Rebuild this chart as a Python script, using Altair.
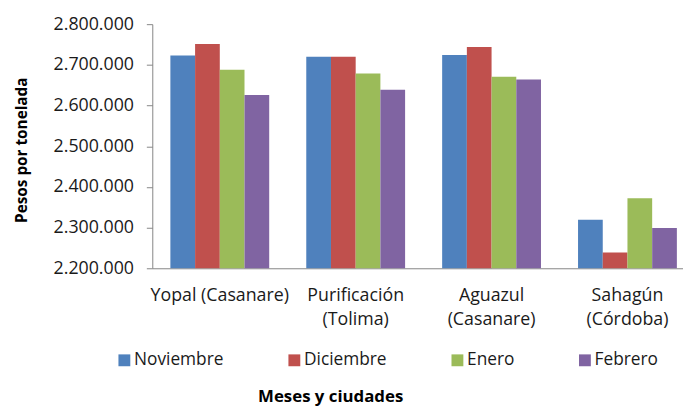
import altair as alt
import pandas as pd

ciudades = ["Yopal (Casanare)", "Purificación (Tolima)", "Aguazul (Casanare)", "Sahagún (Córdoba)"]
meses = ["Noviembre", "Diciembre", "Enero", "Febrero"]
colores = ["#4F81BD", "#C0504D", "#9BBB59", "#8064A2"]
noviembre = [2723000, 2720000, 2724000, 2319000]
diciembre = [2751000, 2720000, 2744000, 2239000]
enero = [2688000, 2679000, 2671000, 2372000]
febrero = [2626000, 2639000, 2664000, 2299000]

series = [noviembre, diciembre, enero, febrero]
rows = []
for m, vals in zip(meses, series):
    for c, v in zip(ciudades, vals):
        rows.append({"Ciudad": c, "Mes": m, "Valor": v})
df = pd.DataFrame(rows)

FONT = "Open Sans"

chart = alt.Chart(df).mark_bar(clip=True).encode(
    x=alt.X("Ciudad:N", sort=ciudades,
            scale=alt.Scale(paddingInner=0.2727, paddingOuter=0.0891, align=0.747),
            axis=alt.Axis(title="Meses y ciudades", labelAngle=0, ticks=False,
                          domainColor="#868686", domainWidth=1,
                          labelExpr="datum.value == 'Yopal (Casanare)' ? datum.value : split(datum.value, ' ')",
                          labelLineHeight=24, labelPadding=19, labelFontSize=18,
                          labelFont=FONT, labelColor="#1a1a1a",
                          titleFont=FONT, titleFontSize=17, titleFontWeight="bold",
                          titleX=180, titleY=130, titleBaseline="middle",
                          titleAnchor="middle", titleAlign="center", titleColor="#000")),
    xOffset=alt.XOffset("Mes:N", sort=meses, scale=alt.Scale(paddingInner=0, paddingOuter=0)),
    y=alt.Y("Valor:Q",
            scale=alt.Scale(domain=[2200000, 2800000], zero=False, nice=False),
            axis=alt.Axis(title="Pesos por tonelada", values=[2200000, 2300000, 2400000, 2500000, 2600000, 2700000, 2800000],
                          grid=False, tickSize=6, tickColor="#868686", domainColor="#868686",
                          labelExpr="replace(format(datum.value, ','), regexp(',', 'g'), '.')",
                          labelFont=FONT, labelFontSize=18, labelPadding=13, labelColor="#1a1a1a",
                          titleFont=FONT, titleFontSize=15.5, titleFontWeight="bold",
                          titleX=-132, titleY=127, titleAngle=270, titleBaseline="middle",
                          titleAlign="center", titleColor="#000")),
    color=alt.Color("Mes:N", sort=meses,
                    scale=alt.Scale(domain=meses, range=colores),
                    legend=alt.Legend(title=None, orient="none", direction="horizontal",
                                      legendX=-37, legendY=331, symbolType="square",
                                      symbolSize=144, symbolStrokeWidth=0, labelOffset=1,
                                      columnPadding=62, labelFont=FONT, labelFontSize=17.5,
                                      labelColor="#1a1a1a", gridAlign="each")),
).properties(
    width=537, height=247,
    autosize=alt.AutoSizeParams(type="none"),
    padding={"left": 146, "top": 14, "right": 0, "bottom": 138},
).configure_view(stroke=None)

chart.save("out.html", embed_options={"renderer": "svg", "actions": False})
